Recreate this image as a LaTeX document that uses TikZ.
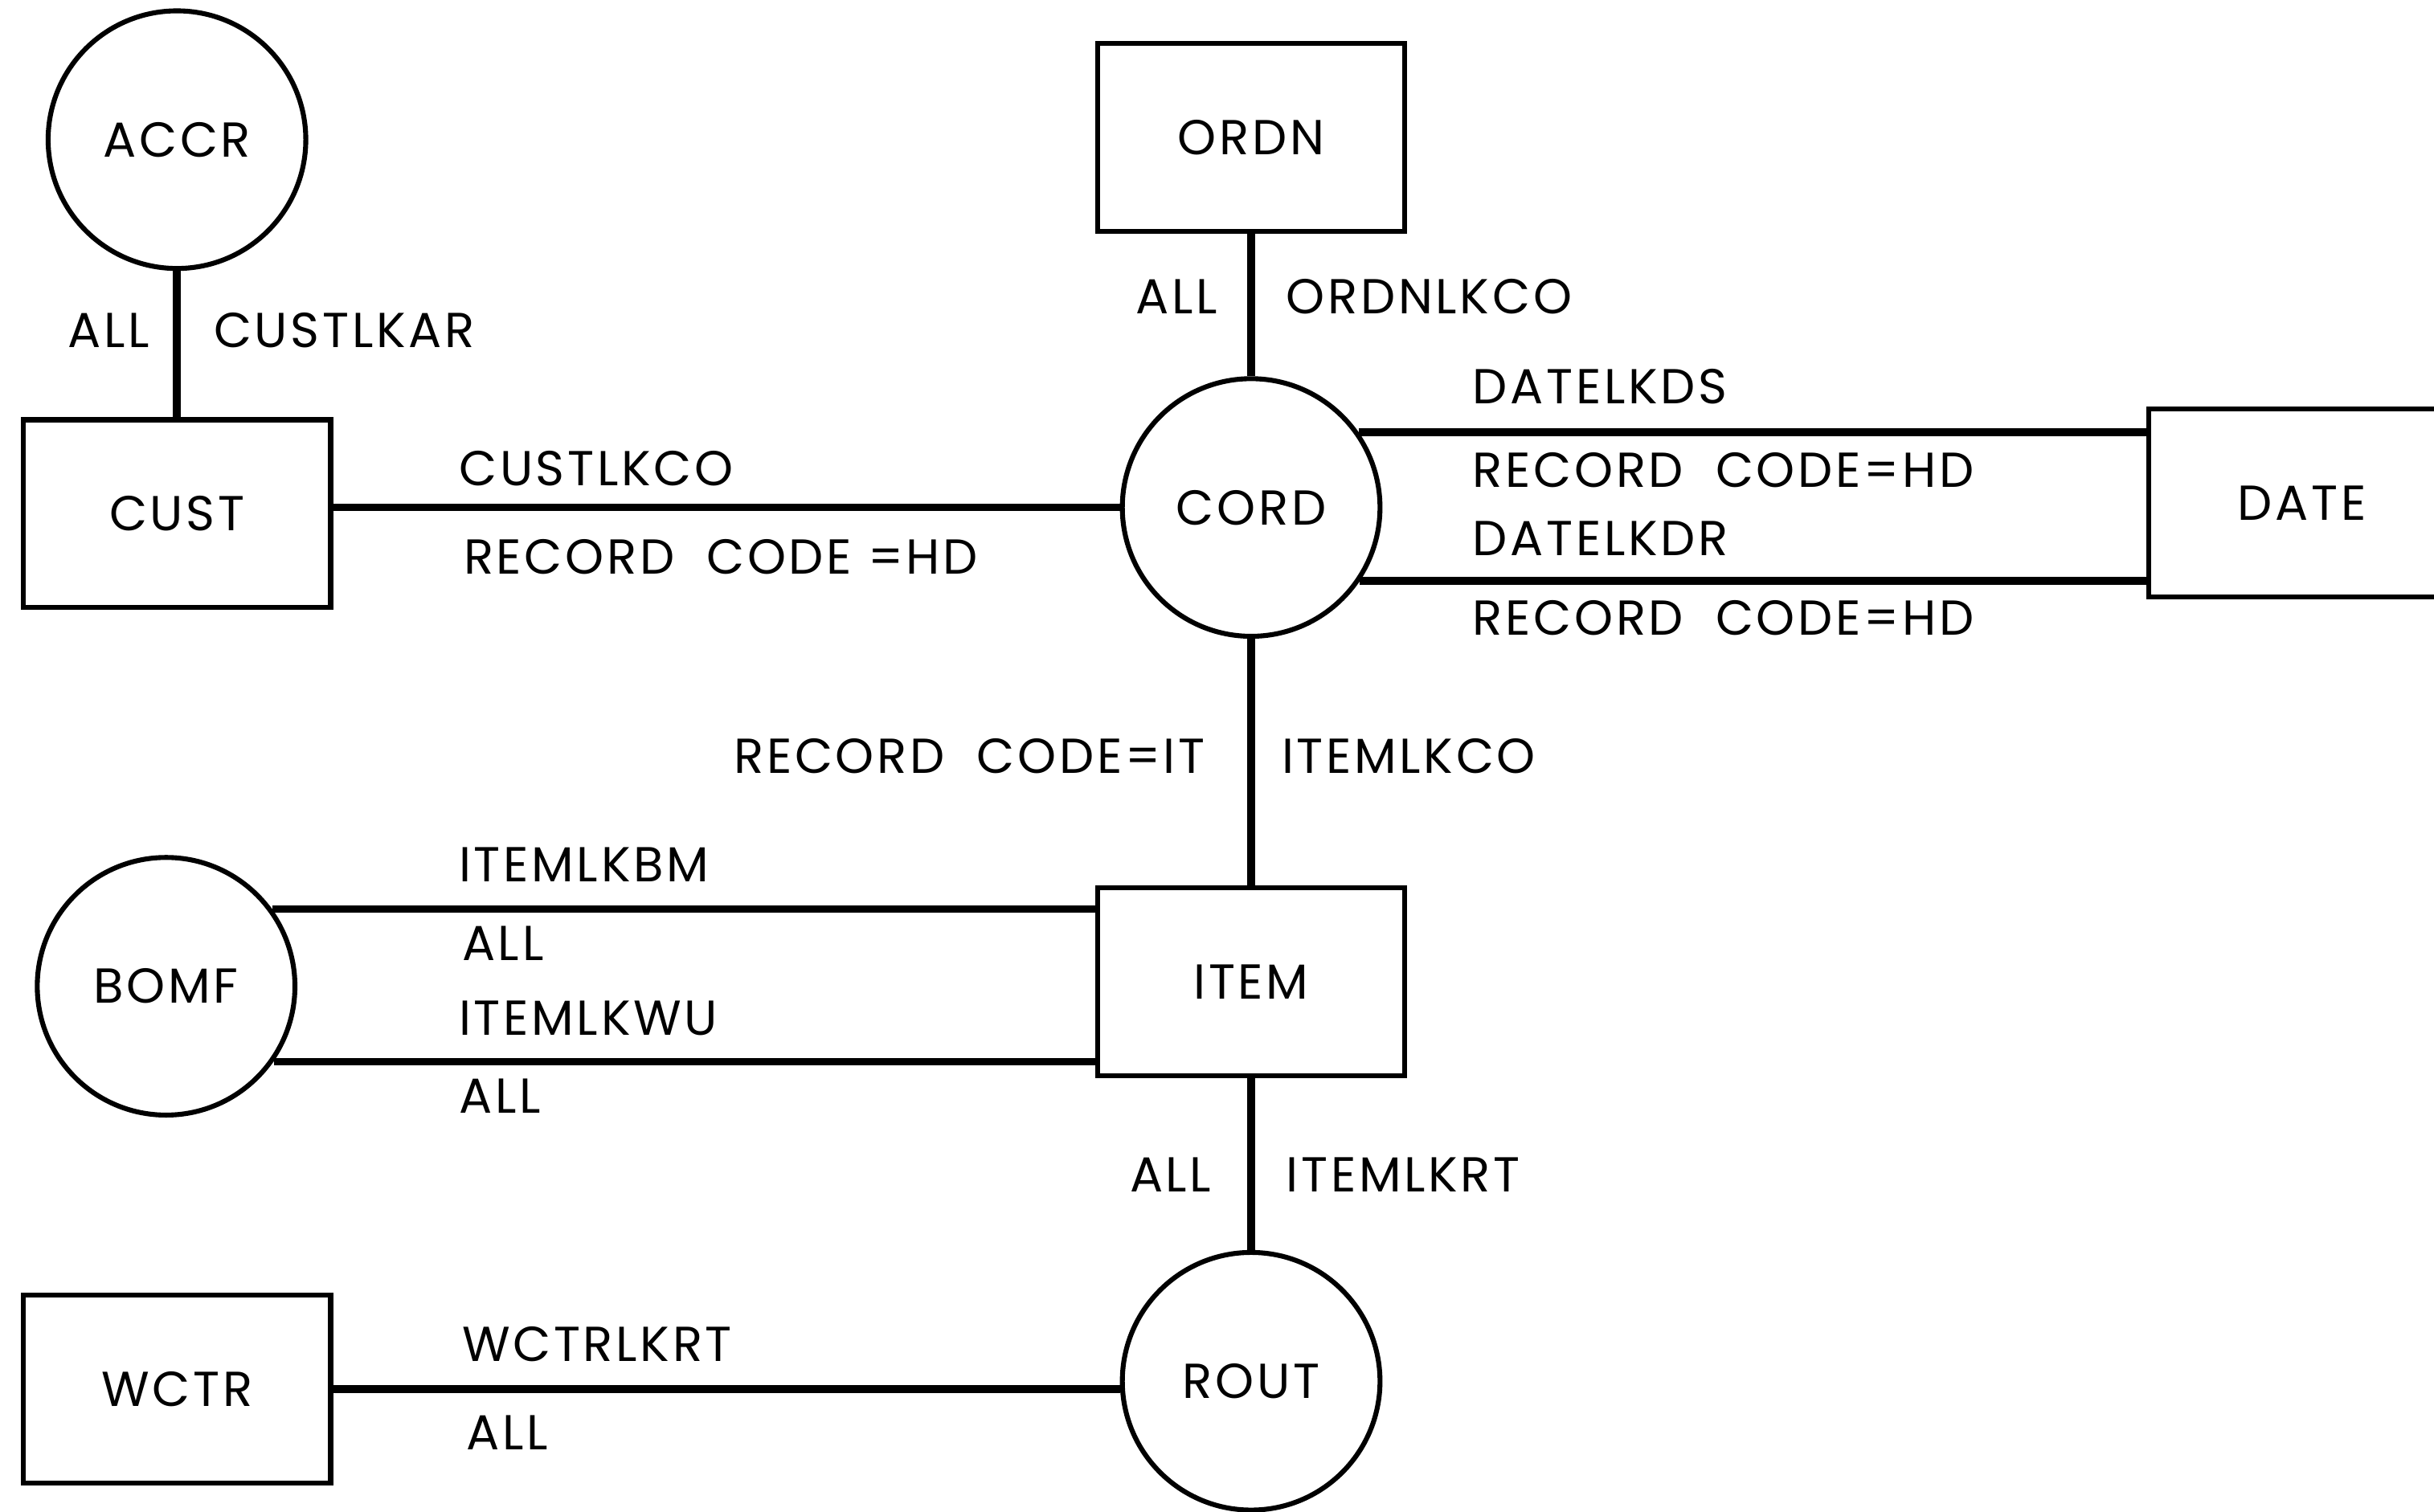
\documentclass[tikz,border=0pt]{standalone}
\usepackage{fontspec}
\setmainfont[LetterSpace=6]{Poppins}
\pgfdeclarelayer{edgelayer}
\pgfdeclarelayer{nodelayer}
\pgfsetlayers{edgelayer,nodelayer,main}
\tikzstyle{edge}=[draw=black, line width=1.4pt]
\tikzstyle{entity}=[rectangle, fill=white, draw=black, line width=0.9pt, minimum width=1.98cm, minimum height=1.21cm, inner sep=0pt, font=\fontsize{9}{11}\selectfont]
\tikzstyle{owner}=[circle, fill=white, draw=black, line width=0.9pt, minimum size=1.66cm, inner sep=0pt, font=\fontsize{9}{11}\selectfont]
\tikzstyle{tag}=[anchor=west, inner sep=0pt, font=\fontsize{9}{11}\selectfont]
\tikzstyle{tagl}=[anchor=east, inner sep=0pt, font=\fontsize{9}{11}\selectfont]

\begin{document}
\begin{tikzpicture}
			\useasboundingbox (0, 0) rectangle (15.68, -9.74);
			\begin{pgfonlayer}{nodelayer}
			\node [style=owner] (accr) at (1.14, -0.90) {ACCR};
			\node [style=entity] (cust) at (1.14, -3.31) {CUST};
			\node [style=entity] (ordn) at (8.06, -0.885) {ORDN};
			\node [style=owner] (cord) at (8.06, -3.27) {CORD};
			\node [style=entity] (date) at (14.83, -3.24) {DATE};
			\node [style=entity] (item) at (8.06, -6.325) {ITEM};
			\node [style=owner] (bomf) at (1.07, -6.355) {BOMF};
			\node [style=owner] (rout) at (8.06, -8.90) {ROUT};
			\node [style=entity] (wctr) at (1.14, -8.95) {WCTR};
			% link names
			\node [style=tagl] (t0) at (0.97, -2.13) {ALL};
			\node [style=tag] (t1) at (1.37, -2.13) {CUSTLKAR};
			\node [style=tag] (t2) at (2.95, -3.02) {CUSTLKCO};
			\node [style=tag] (t3) at (2.98, -3.59) {RECORD\ \ CODE =HD};
			\node [style=tagl] (t4) at (7.85, -1.91) {ALL};
			\node [style=tag] (t5) at (8.28, -1.91) {ORDNLKCO};
			\node [style=tag] (t6) at (9.48, -2.49) {DATELKDS};
			\node [style=tag] (t7) at (9.48, -3.03) {RECORD\ \ CODE=HD};
			\node [style=tag] (t8) at (9.48, -3.47) {DATELKDR};
			\node [style=tag] (t9) at (9.48, -3.98) {RECORD\ \ CODE=HD};
			\node [style=tagl] (t10) at (7.77, -4.87) {RECORD\ \ CODE=IT};
			\node [style=tag] (t11) at (8.25, -4.87) {ITEMLKCO};
			\node [style=tag] (t12) at (2.95, -5.57) {ITEMLKBM};
			\node [style=tag] (t13) at (2.97, -6.08) {ALL};
			\node [style=tag] (t14) at (2.95, -6.56) {ITEMLKWU};
			\node [style=tag] (t15) at (2.95, -7.06) {ALL};
			\node [style=tagl] (t16) at (7.81, -7.57) {ALL};
			\node [style=tag] (t17) at (8.28, -7.57) {ITEMLKRT};
			\node [style=tag] (t18) at (2.97, -8.66) {WCTRLKRT};
			\node [style=tag] (t19) at (3.00, -9.23) {ALL};
			\end{pgfonlayer}
			\begin{pgfonlayer}{edgelayer}
			\draw [style=edge] (accr) to (cust);
			\draw [style=edge] (cord.west) to (cord.west -| cust.east);
			\draw [style=edge] (ordn) to (cord);
			\draw [style=edge] (cord.35) to (cord.35 -| date.west);
			\draw [style=edge] (cord.-34) to (cord.-34 -| date.west);
			\draw [style=edge] (cord) to (item);
			\draw [style=edge] (bomf.36) to (bomf.36 -| item.west);
			\draw [style=edge] (bomf.-35) to (bomf.-35 -| item.west);
			\draw [style=edge] (item) to (rout);
			\draw [style=edge] (wctr.east) to (wctr.east -| rout.west);
			\end{pgfonlayer}
\end{tikzpicture}
\end{document}
